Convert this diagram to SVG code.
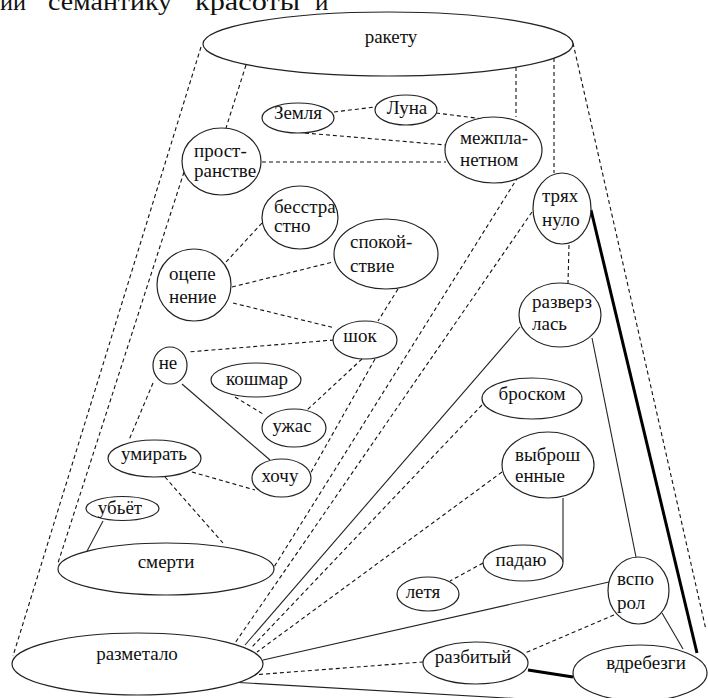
<svg xmlns="http://www.w3.org/2000/svg" width="708" height="698" viewBox="0 0 708 698" font-family="'Liberation Serif', 'DejaVu Serif', serif">
<style>
.n ellipse{fill:#fff;stroke:#222;stroke-width:1.2}
text{font-family:'Liberation Serif','DejaVu Serif',serif;font-size:19px;fill:#111}
.c{text-anchor:middle}
.d{stroke:#111;stroke-width:1.1;stroke-dasharray:4 3;fill:none}
.s{stroke:#222;stroke-width:1.1;fill:none}
.t{stroke:#000;stroke-width:3;fill:none}
.h{font-size:25px}
</style>
<rect width="708" height="698" fill="#fff"/>
<g id="header">
<text class="h" x="0" y="10" textLength="26" lengthAdjust="spacingAndGlyphs">ии</text>
<text class="h" x="48" y="10" textLength="124" lengthAdjust="spacingAndGlyphs">семантику</text>
<text class="h" x="195" y="10" textLength="105" lengthAdjust="spacingAndGlyphs">красоты</text>
<text class="h" x="315" y="10">и</text>
</g>
<g id="connectors">
<path class="d" d="M201,47 L13,656"/>
<path class="d" d="M246,65 L226,128"/>
<path class="d" d="M184,172 L58,563"/>
<path class="d" d="M334,112 L375,107"/>
<path class="d" d="M436,113 L484,119"/>
<path class="d" d="M305,133 L446,145"/>
<path class="d" d="M262,162 L446,162"/>
<path class="d" d="M516,67 L516,117"/>
<path class="d" d="M554,58 L554,173"/>
<path class="d" d="M573,43 L706,630"/>
<path class="d" d="M262,223 L226,262"/>
<path class="d" d="M232,287 L333,262"/>
<path class="d" d="M233,303 L335,328"/>
<path class="d" d="M398,289 L378,321"/>
<path class="d" d="M375,359 L310,474"/>
<path class="d" d="M362,359 L307,410"/>
<path class="d" d="M334,340 L188,352"/>
<path class="d" d="M235,397 L263,414"/>
<path class="d" d="M153,383 L129,440"/>
<path class="d" d="M192,472 L255,490"/>
<path class="d" d="M165,477 L223,543"/>
<path class="d" d="M518,177 L274,567"/>
<path class="d" d="M532,212 L235,643"/>
<path class="d" d="M482,405 L251,648"/>
<path class="d" d="M502,472 L257,652"/>
<path class="d" d="M569,245 L568,283"/>
<path class="d" d="M483,563 L450,581"/>
<path class="d" d="M614,615 L525,653"/>
<path class="d" d="M252,675 L423,662"/>
<path class="s" d="M182,384 L270,460"/>
<path class="s" d="M103,521 L86,553"/>
<path class="s" d="M520,327 L245,645"/>
<path class="s" d="M592,338 L636,557"/>
<path class="s" d="M563,498 L563,562"/>
<path class="s" d="M263,660 L609,582"/>
<path class="s" d="M662,613 L683,649"/>
<path class="s" d="M230,682 L540,700"/>
<path class="t" d="M591,210 L697,653"/>
<path class="t" d="M528,670 L573,677"/>
</g>
<g id="n-raketu" class="n"><ellipse cx="388" cy="44" rx="185" ry="32"/><text class="c" x="391" y="43">ракету</text></g>
<g id="n-zemlya" class="n"><ellipse cx="298" cy="118" rx="36" ry="15"/><text class="c" x="298" y="119">Земля</text></g>
<g id="n-luna" class="n"><ellipse cx="406" cy="110" rx="31" ry="15"/><text class="c" x="407" y="114">Луна</text></g>
<g id="n-prostranstve" class="n"><ellipse cx="221.5" cy="161.5" rx="39.5" ry="33.5"/><text x="194" y="157" font-size="17">прост-</text><text x="194" y="177" font-size="17">ранстве</text></g>
<g id="n-mezhplanetnom" class="n"><ellipse cx="493.5" cy="150" rx="48.5" ry="33"/><text x="460" y="144" font-size="17">межпла-</text><text x="460" y="166" font-size="17">нетном</text></g>
<g id="n-besstrastno" class="n"><ellipse cx="300" cy="217.5" rx="38" ry="31.5"/><text x="274" y="213" font-size="15">бесстра</text><text x="274" y="232" font-size="15">стно</text></g>
<g id="n-spokoystvie" class="n"><ellipse cx="386" cy="254" rx="52" ry="35"/><text x="350" y="248">спокой-</text><text x="350" y="272">ствие</text></g>
<g id="n-tryahnulo" class="n"><ellipse cx="562" cy="208.5" rx="29" ry="35.5"/><text x="542" y="202">трях</text><text x="542" y="226">нуло</text></g>
<g id="n-ocepenenie" class="n"><ellipse cx="194" cy="285" rx="37" ry="36"/><text x="169" y="280">оцепе</text><text x="169" y="303">нение</text></g>
<g id="n-shok" class="n"><ellipse cx="365" cy="340" rx="32" ry="19"/><text class="c" x="360" y="342">шок</text></g>
<g id="n-razverzlas" class="n"><ellipse cx="560" cy="315" rx="41" ry="32"/><text x="532" y="308" font-size="17.5">разверз</text><text x="532" y="330" font-size="17.5">лась</text></g>
<g id="n-ne" class="n"><ellipse cx="170" cy="365.5" rx="17" ry="18.5"/><text class="c" x="168" y="369">не</text></g>
<g id="n-koshmar" class="n"><ellipse cx="256" cy="380" rx="45" ry="17"/><text class="c" x="257" y="385">кошмар</text></g>
<g id="n-uzhas" class="n"><ellipse cx="294" cy="428" rx="32" ry="19"/><text class="c" x="292" y="432">ужас</text></g>
<g id="n-broskom" class="n"><ellipse cx="532" cy="398.5" rx="50" ry="20.5"/><text class="c" x="532" y="400">броском</text></g>
<g id="n-umirat" class="n"><ellipse cx="154.5" cy="458.5" rx="46.5" ry="18.5"/><text class="c" x="154" y="460" font-size="17.5">умирать</text></g>
<g id="n-hochu" class="n"><ellipse cx="281.5" cy="478" rx="29.5" ry="19"/><text class="c" x="280" y="482">хочу</text></g>
<g id="n-vybroshennye" class="n"><ellipse cx="548" cy="465" rx="46" ry="33"/><text x="515" y="461">выброш</text><text x="515" y="482">енные</text></g>
<g id="n-ubyot" class="n"><ellipse cx="122.5" cy="508.5" rx="36.5" ry="12"/><text class="c" x="120" y="514">убьёт</text></g>
<g id="n-smerti" class="n"><ellipse cx="166" cy="569" rx="108" ry="26"/><text class="c" x="166" y="568">смерти</text></g>
<g id="n-padayu" class="n"><ellipse cx="523" cy="563" rx="40" ry="18"/><text class="c" x="521" y="566">падаю</text></g>
<g id="n-letya" class="n"><ellipse cx="428" cy="594" rx="31" ry="17"/><text class="c" x="423" y="598">летя</text></g>
<g id="n-vsporol" class="n"><ellipse cx="638.5" cy="590.5" rx="30.5" ry="33.5"/><text x="617" y="585">вспо</text><text x="617" y="609">рол</text></g>
<g id="n-razmetalo" class="n"><ellipse cx="137.5" cy="664" rx="125.5" ry="31"/><text class="c" x="137" y="660">разметало</text></g>
<g id="n-razbityy" class="n"><ellipse cx="475.5" cy="663" rx="52.5" ry="21"/><text class="c" x="473" y="663" font-size="17.5">разбитый</text></g>
<g id="n-vdrebezgi" class="n"><ellipse cx="640" cy="673" rx="67" ry="28"/><text class="c" x="646" y="669">вдребезги</text></g>
</svg>
